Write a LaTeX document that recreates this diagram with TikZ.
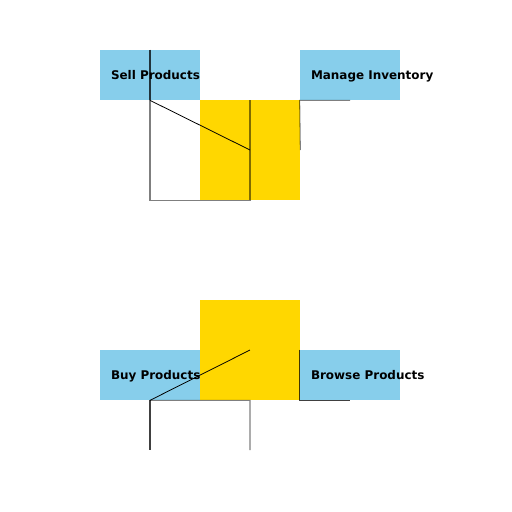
\documentclass[tikz,border=0pt]{standalone}
\usepackage{fontspec}
\setmainfont{DejaVu Sans}
\usetikzlibrary{positioning}
\definecolor{skyblue}{RGB}{135, 206, 235}
\definecolor{gold}{RGB}{255, 215, 0}

\tikzset{
    usecase/.style={rectangle,fill=skyblue,minimum width=2cm,minimum height=1cm,inner sep=0pt},
    hubbox/.style={rectangle,fill=gold,minimum width=2cm,minimum height=2cm,inner sep=0pt},
    caselabel/.style={font=\fontsize{6.8}{8}\selectfont\bfseries,inner sep=0pt,anchor=base west,yshift=-0.08cm},
    link/.style={draw=black,draw opacity=0.5,line width=0.6pt},
    darklink/.style={draw=black,draw opacity=0.75,line width=0.6pt},
    thinlink/.style={draw=black,line width=0.45pt}
}

\begin{document}
\begin{tikzpicture}
        \useasboundingbox (0,0) rectangle (10.24,-10.24);

        % top group
        \node[hubbox] (hubtop) at (5,-3) {};
        \node[usecase] (sell) at (3,-1.5) {};
        \node[usecase] (manage) at (7,-1.5) {};
        \node[right=0.22cm of sell.west,caselabel] (selltext) {Sell Products};
        \node[right=0.22cm of manage.west,caselabel] (managetext) {Manage Inventory};

        \draw[darklink] (sell.north) -- (sell.south);
        \draw[link] (sell.south) |- (hubtop.south) -- (hubtop.north);
        \draw[thinlink] (sell.south) -- (hubtop.center);
        \draw[link] (manage.south) -- (manage.south west) -- (hubtop.east);

        % bottom group
        \node[hubbox] (hubbottom) at (5,-7) {};
        \node[usecase] (buy) at (3,-7.5) {};
        \node[usecase] (browse) at (7,-7.5) {};
        \node[right=0.22cm of buy.west,caselabel] (buytext) {Buy Products};
        \node[right=0.22cm of browse.west,caselabel] (browsetext) {Browse Products};
        \coordinate (buyend) at (3,-9);
        \coordinate (hubend) at (5,-9);

        \draw[thinlink] (buy.south) -- (hubbottom.center);
        \draw[darklink] (buy.south) -- (buyend);
        \draw[link] (buy.south) -- (hubbottom.south) -- (hubend);
        \draw[darklink] (browse.north west) -- (browse.south west) -- (browse.south);
    \end{tikzpicture}
\end{document}
